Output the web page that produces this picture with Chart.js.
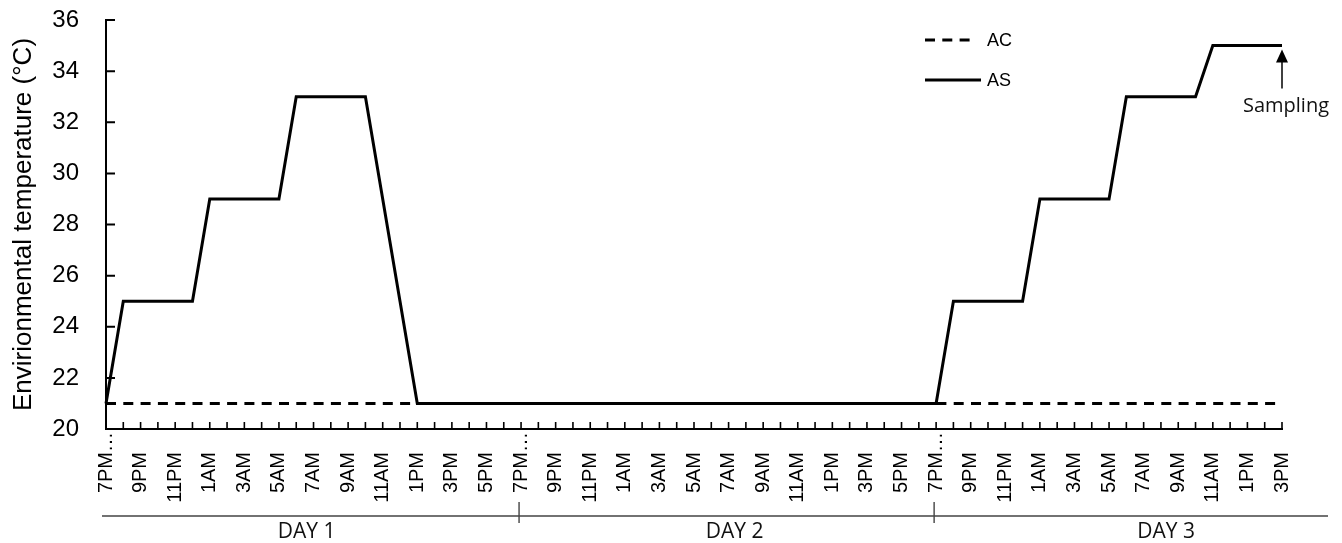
<!DOCTYPE html>
<html><head><meta charset="utf-8">
<script src="https://cdn.jsdelivr.net/npm/chart.js@4.4.1/dist/chart.umd.min.js"></script>
<style>html,body{margin:0;padding:0;background:#fff}#wrap{width:1342px;height:543px;position:relative}</style>
</head><body><div id="wrap"><canvas id="c"></canvas></div>
<script>
// hourly categories, 7PM day 1 through 3PM day 3
const hourLabels = [
  "7PM","8PM","9PM","10PM","11PM","12AM","1AM","2AM","3AM","4AM","5AM","6AM",
  "7AM","8AM","9AM","10AM","11AM","12PM","1PM","2PM","3PM","4PM","5PM","6PM",
  "7PM","8PM","9PM","10PM","11PM","12AM","1AM","2AM","3AM","4AM","5AM","6AM",
  "7AM","8AM","9AM","10AM","11AM","12PM","1PM","2PM","3PM","4PM","5PM","6PM",
  "7PM","8PM","9PM","10PM","11PM","12AM","1AM","2AM","3AM","4AM","5AM","6AM",
  "7AM","8AM","9AM","10AM","11AM","12PM","1PM","2PM","3PM"
];
const dayStartIdx = [0, 24, 48];
const dayNames = ["DAY 1", "DAY 2", "DAY 3"];
const dayNamePos = [11.6, 36.35, 61.3];

const acValues = [
  21,21,21,21,21,21,21,21,21,21,21,21,21,21,21,21,21,21,21,21,21,21,21,21,
  21,21,21,21,21,21,21,21,21,21,21,21,21,21,21,21,21,21,21,21,21,21,21,21,
  21,21,21,21,21,21,21,21,21,21,21,21,21,21,21,21,21,21,21,21,21
];
const asValues = [
  21,25,25,25,25,25,29,29,29,29,29,33,33,33,33,33,29,25,21,21,21,21,21,21,
  21,21,21,21,21,21,21,21,21,21,21,21,21,21,21,21,21,21,21,21,21,21,21,21,
  21,25,25,25,25,25,29,29,29,29,29,33,33,33,33,33,35,35,35,35,35
];
const yTickMin = 20, yTickMax = 36, yTickStep = 2;
const annotationText = "Sampling";

const overlay = {
  id: 'overlay',
  afterDraw(chart) {
    const {ctx, chartArea: a, scales: {x, y}} = chart;
    ctx.save();
    ctx.strokeStyle = '#000';
    // inward x tick marks
    ctx.lineWidth = 1.6;
    ctx.beginPath();
    for (let i = 0; i < hourLabels.length; i++) {
      const px = x.getPixelForValue(i);
      ctx.moveTo(px, a.bottom); ctx.lineTo(px, a.bottom - 7);
    }
    ctx.stroke();
    // inward y tick marks
    ctx.lineWidth = 2;
    ctx.beginPath();
    y.ticks.forEach(t => {
      const py = y.getPixelForValue(t.value);
      ctx.moveTo(a.left, py); ctx.lineTo(a.left + 9, py);
    });
    ctx.stroke();

    // day bracket line
    const lineY = 516;
    ctx.strokeStyle = '#444';
    ctx.lineWidth = 1.4;
    ctx.beginPath();
    ctx.moveTo(a.left - 4, lineY); ctx.lineTo(a.right + 46, lineY);
    dayStartIdx.slice(1).forEach(i => {
      const px = x.getPixelForValue(i) - 2;
      ctx.moveTo(px, lineY - 14); ctx.lineTo(px, lineY + 7);
    });
    ctx.stroke();
    ctx.fillStyle = '#111';
    ctx.font = '21px "Open Sans"';
    ctx.textAlign = 'center'; ctx.textBaseline = 'middle';
    dayNames.forEach((n, k) => ctx.fillText(n, x.getPixelForValue(dayNamePos[k]), 532));

    // legend
    const ds = chart.data.datasets;
    const legY = [40, 80];
    ctx.font = '18px "Liberation Sans", Arial';
    ctx.textAlign = 'left';
    ds.forEach((d, k) => {
      ctx.strokeStyle = d.borderColor;
      ctx.lineWidth = 3;
      ctx.setLineDash(d.borderDash || []);
      ctx.beginPath();
      ctx.moveTo(925, legY[k]); ctx.lineTo(d.borderDash ? 972 : 981, legY[k]);
      ctx.stroke();
      ctx.setLineDash([]);
      ctx.fillStyle = '#000';
      ctx.fillText(d.label, 987, legY[k] + 1);
    });

    // sampling arrow
    const last = asValues.length - 1;
    const ax = x.getPixelForValue(last);
    const tip = y.getPixelForValue(asValues[last]) + 4;
    ctx.strokeStyle = '#000'; ctx.fillStyle = '#000';
    ctx.lineWidth = 1.5;
    ctx.beginPath();
    ctx.moveTo(ax, tip + 10); ctx.lineTo(ax, tip + 39);
    ctx.stroke();
    ctx.beginPath();
    ctx.moveTo(ax, tip); ctx.lineTo(ax - 6, tip + 13); ctx.lineTo(ax + 6, tip + 13); ctx.closePath();
    ctx.fill();
    ctx.font = '20px "Open Sans"';
    ctx.textAlign = 'center';
    ctx.fillStyle = '#111';
    ctx.fillText(annotationText, ax + 4, tip + 57);
    ctx.restore();
  }
};

new Chart(document.getElementById('c'), {
  type: 'line',
  data: {
    labels: hourLabels,
    datasets: [
      { label: 'AC', data: acValues, borderColor: '#000', borderWidth: 3, borderDash: [10, 7.3],
        pointRadius: 0, tension: 0, fill: false, order: 2, clip: 6 },
      { label: 'AS', data: asValues, borderColor: '#000', borderWidth: 3,
        pointRadius: 0, tension: 0, fill: false, order: 1, clip: 6, borderJoinStyle: 'miter' }
    ]
  },
  options: {
    responsive: true, maintainAspectRatio: false, animation: false,
    layout: { padding: { top: 20, right: 60, bottom: 0, left: 0 } },
    plugins: { legend: { display: false }, tooltip: { enabled: false } },
    scales: {
      x: {
        type: 'category', offset: false,
        grid: { display: false, drawTicks: false },
        border: { display: true, color: '#000', width: 2 },
        ticks: {
          autoSkip: false, minRotation: 90, maxRotation: 90, padding: 3,
          color: '#000', font: { family: '"Liberation Sans", Arial', size: 20 },
          callback: function (v, i) {
            if (i % 2) return '';
            if (dayStartIdx.includes(i)) return hourLabels[i] + '\u2026';
            return hourLabels[i] + '\u2002\u2002';
          }
        },
        afterFit: s => { s.height = 114; }
      },
      y: {
        min: yTickMin, max: yTickMax,
        grid: { display: false, drawTicks: false },
        border: { display: true, color: '#000', width: 2 },
        ticks: { stepSize: yTickStep, padding: 3, color: '#000',
          font: { family: '"Liberation Sans", Arial', size: 24 },
          callback: v => v + '\u2002\u2002' },
        title: { display: true, text: 'Envirionmental temperature (°C)', color: '#000',
          font: { family: '"Liberation Sans", Arial', size: 26 }, padding: { top: 8, bottom: 0 } },
        afterFit: s => { s.width = 106; }
      }
    }
  },
  plugins: [overlay]
});
</script>
</body></html>
